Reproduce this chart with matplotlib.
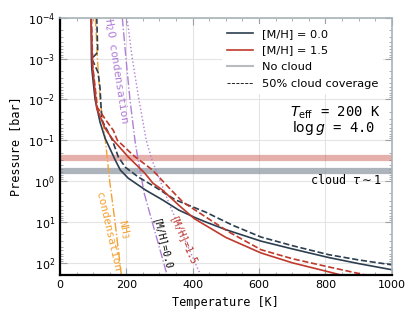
import numpy as np
import matplotlib
matplotlib.use('Agg')
import matplotlib.pyplot as plt
from matplotlib.lines import Line2D
from matplotlib.ticker import MultipleLocator, LogLocator, NullFormatter

# P-T profiles (log10 P [bar], T [K])
logp_m00 = [-4.0, -3.0, -2.76, -2.0, -1.44, -1.05, -0.51, -0.27, -0.07, 0.22, 0.46, 0.71, 0.90, 1.0,
            1.19, 1.47, 1.66, 1.87, 2.02, 2.17]
t_m00 = [94, 95, 96, 106, 121, 136, 167, 182, 206, 258, 309, 358, 409, 439,
         500, 606, 700, 809, 900, 1000]

logp_m00_cl = [-4.0, -3.15, -3.0, -2.66, -2.27, -1.5, -1.0, -0.59, -0.34, -0.10, 0.15, 0.46, 0.76,
               1.08, 1.37, 1.58, 1.80, 1.93, 2.05]
t_m00_cl = [111, 114, 96, 115, 121, 126, 158, 176, 197, 236, 288, 348, 439,
            520, 606, 700, 809, 900, 1000]

logp_m15 = [-4.0, -2.83, -1.78, -1.29, -1.0, -0.59, -0.2, 0.05, 0.22, 0.59, 0.92, 1.38, 1.76, 2.0, 2.22, 2.35]
t_m15 = [94, 98, 111, 136, 161, 206, 255, 280, 309, 358, 405, 500, 606, 700, 809, 870]

logp_m15_cl = [-4.0, -2.8, -1.8, -1.44, -1.24, -1.0, -0.63, -0.27, 0.15, 0.51, 0.83, 1.25, 1.68, 1.90, 2.10, 2.35]
t_m15_cl = [95, 99, 113, 143, 161, 173, 221, 279, 327, 370, 430, 510, 606, 700, 809, 950]

# condensation curves
logp_h2o_00 = [-4.0, -3.0, -2.0, -1.0, -0.5, 0.3, 1.0, 2.3]
t_h2o_00 = [188, 199, 211, 226, 236, 254, 278, 323]
logp_h2o_15 = [-4.0, -3.0, -2.0, -1.0, -0.5, 0.71, 1.5, 2.3]
t_h2o_15 = [202, 218, 238, 260, 278, 337, 380, 424]
logp_nh3 = [-4.0, -3.0, -2.0, -1.0, 0.0, 1.0, 2.3]
t_nh3 = [107, 113, 121, 137, 150, 166, 185]

# cloud tau~1 levels [bar]
p_cloud_m15 = 0.28
p_cloud_m00 = 0.58

yticks = [1e-4, 1e-3, 1e-2, 1e-1, 1e0, 1e1, 1e2]

navy = '#2c3e50'
red = '#c0392b'
orange = '#f5a030'
purple = '#b07fd6'
mono = 'DejaVu Sans Mono'

fig = plt.figure(figsize=(4.16, 3.21), dpi=100)
ax = fig.add_axes([0.144, 0.143, 0.798, 0.802])

ax.grid(True, which='major', color='#e4e4e4', lw=0.8)
ax.set_axisbelow(True)

ax.axhline(p_cloud_m15, color=red, alpha=0.4, lw=4.5)
ax.axhline(p_cloud_m00, color='#8a949e', alpha=0.7, lw=4.5)

ax.plot(t_nh3, 10 ** np.array(logp_nh3), color=orange, ls='-.', lw=1.0)
ax.plot(t_h2o_00, 10 ** np.array(logp_h2o_00), color=purple, ls='-.', lw=1.0)
ax.plot(t_h2o_15, 10 ** np.array(logp_h2o_15), color=purple, ls=':', lw=1.0)

ax.plot(t_m00, 10 ** np.array(logp_m00), color=navy, lw=1.2)
ax.plot(t_m00_cl, 10 ** np.array(logp_m00_cl), color=navy, lw=1.2, ls='--')
ax.plot(t_m15, 10 ** np.array(logp_m15), color=red, lw=1.2)
ax.plot(t_m15_cl, 10 ** np.array(logp_m15_cl), color=red, lw=1.2, ls='--')

ax.set_yscale('log')
ax.set_xlim(0, 1000)
ax.set_ylim(2e2, 1e-4)
ax.xaxis.set_major_locator(MultipleLocator(200))
ax.xaxis.set_minor_locator(MultipleLocator(50))
ax.set_yticks(yticks)
ax.yaxis.set_minor_locator(LogLocator(base=10, subs=np.arange(2, 10), numticks=20))
ax.yaxis.set_minor_formatter(NullFormatter())

ax.tick_params(which='both', direction='in', top=True, right=True, color='#9aa0a6', labelsize=8)
ax.tick_params(which='major', length=5)
ax.tick_params(which='minor', length=2.5)
for s in ['top', 'right']:
    ax.spines[s].set_color('#a9b3b8')
    ax.spines[s].set_linewidth(1.2)
for s in ['left', 'bottom']:
    ax.spines[s].set_color('black')
    ax.spines[s].set_linewidth(1.6)

ax.set_xlabel('Temperature [K]', family=mono, fontsize=8.5)
ax.set_ylabel('Pressure [bar]', family=mono, fontsize=8.5)

ax.text(170, 10 ** -2.71, 'H$_2$O condensation', color=purple, family=mono, fontsize=8,
        rotation=-81, ha='center', va='center')
ax.text(172, 10 ** 1.2, 'NH$_3$\ncondensation', color=orange, family=mono, fontsize=8,
        rotation=-77, ha='center', va='center', linespacing=1.45)
ax.text(308, 10 ** 1.56, '[M/H]=0.0', color='black', family=mono, fontsize=7,
        rotation=-76, ha='center', va='center')
ax.text(372, 10 ** 1.46, '[M/H]=1.5', color=red, family=mono, fontsize=7,
        rotation=-66, ha='center', va='center')

ax.text(965, 10 ** -1.68, '$T_{\\rm eff}$ = 200 K', family=mono, fontsize=10, ha='right', va='center')
ax.text(950, 10 ** -1.29, '$\\log g$ = 4.0', family=mono, fontsize=10, ha='right', va='center')
ax.text(970, 10 ** -0.02, 'cloud $\\tau\\sim1$', family=mono, fontsize=8.5, ha='right', va='center')

handles = [
    Line2D([], [], color=navy, lw=1.2),
    Line2D([], [], color=red, lw=1.2),
    Line2D([], [], color='#b8bcc0', lw=1.5),
    Line2D([], [], color='black', lw=0.6, ls='--'),
]
labels = ['[M/H] = 0.0', '[M/H] = 1.5', 'No cloud', '50% cloud coverage']
leg = ax.legend(handles, labels, loc='upper right', bbox_to_anchor=(0.99, 0.997), fontsize=8.2,
                frameon=True, framealpha=1, edgecolor='none', handlelength=2.3,
                handletextpad=0.8, labelspacing=0.6)

fig.savefig('out.png', dpi=100)
